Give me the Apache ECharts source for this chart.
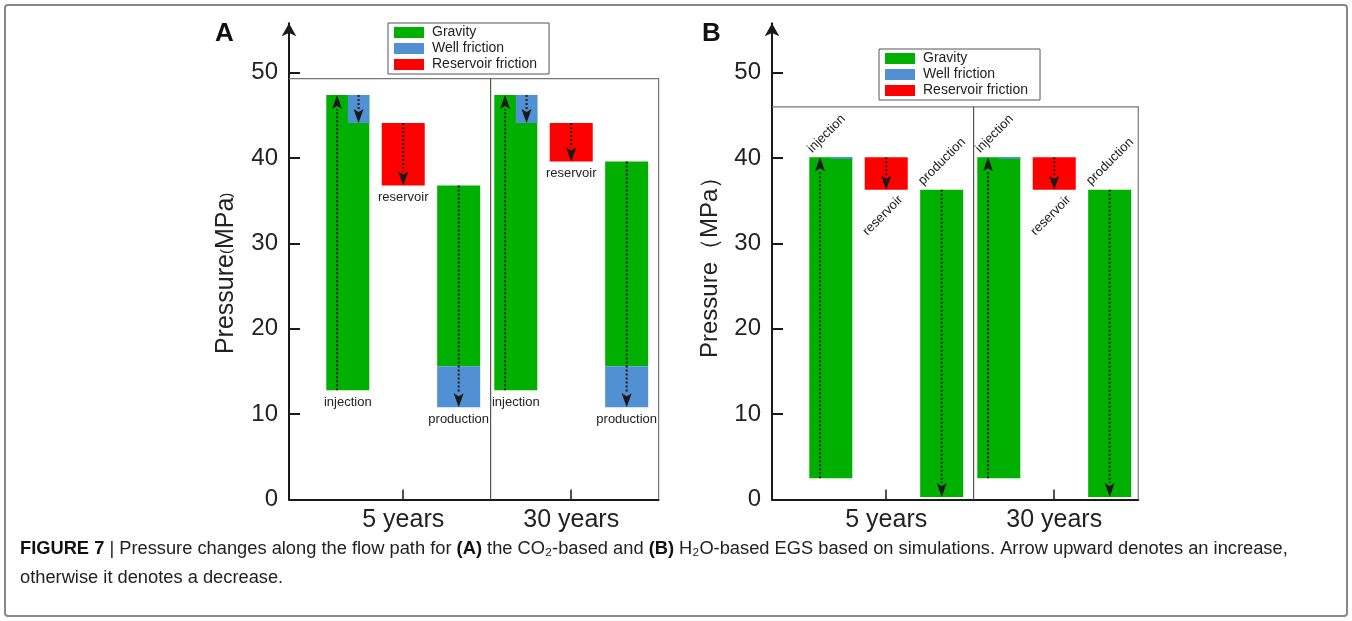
<!DOCTYPE html>
<html><head><meta charset="utf-8">
<script src="https://cdn.jsdelivr.net/npm/echarts@6/dist/echarts.min.js"></script>
<style>html,body{margin:0;padding:0;background:#fff}#c{width:1352px;height:621px}</style>
</head><body><div id="c"></div>
<script>
// ---------------- data ----------------
const categories = ['5 years', '30 years'];
const stages = ['injection', 'reservoir', 'production'];
const yTicks = [0, 10, 20, 30, 40, 50];
const legendNames = ['Gravity', 'Well friction', 'Reservoir friction'];

// Panel A (CO2-based): [low, high] in MPa, one entry per category
const aInjGravity  = [[12.8, 47.4], [12.8, 47.4]];
const aInjWell     = [[44.1, 47.4], [44.1, 47.4]];
const aResFriction = [[36.8, 44.1], [39.6, 44.1]];
const aProdGravity = [[15.6, 36.8], [15.6, 39.6]];
const aProdWell    = [[10.8, 15.6], [10.8, 15.6]];
const aFrameTop = 49.3;

// Panel B (H2O-based)
const bInjGravity  = [[2.5, 40.1], [2.5, 40.1]];
const bInjWell     = [[39.9, 40.1], [39.9, 40.1]];
const bResFriction = [[36.3, 40.1], [36.3, 40.1]];
const bProdGravity = [[0.3, 36.3], [0.3, 36.3]];
const bProdWell    = [[0.3, 0.3], [0.3, 0.3]];
const bFrameTop = 46.0;

// ---------------- layout / style ----------------
const SLOT = [-0.33, 0, 0.33];
const BAR_W = 0.256;
const X_MIN = -0.68, X_MAX_A = 1.52, X_MAX_B = 1.50, DIVIDER = 0.52;
const PX_PER_UNIT = 168;
const Y_MAX = 55.8;
const COLORS = { Gravity: '#00b000', 'Well friction': '#5090d3', 'Reservoir friction': '#ff0000' };
const FONT = "'Liberation Sans', Arial, sans-serif";
const INK = '#1a1a1a';

function buildPanel(p) {
  const gravity = [], well = [], res = [], arrows = [], labels = [];
  categories.forEach((_, c) => {
    gravity.push([c, 0, p.injG[c][0], p.injG[c][1]]);
    gravity.push([c, 2, p.prodG[c][0], p.prodG[c][1]]);
    well.push([c, 0, p.injW[c][0], p.injW[c][1]]);
    well.push([c, 2, p.prodW[c][0], p.prodW[c][1]]);
    res.push([c, 1, p.res[c][0], p.res[c][1]]);
    // arrows: [cat, stage, from, to, lane(-1 left half, 0 centre, 1 right half)]
    arrows.push([c, 0, p.injG[c][0], p.injG[c][1], -1]);
    if (p.injW[c][1] - p.injW[c][0] > 1) arrows.push([c, 0, p.injW[c][1], p.injW[c][0], 1]);
    arrows.push([c, 1, p.res[c][1], p.res[c][0], 0]);
    arrows.push([c, 2, p.prodG[c][1], Math.min(p.prodW[c][0], p.prodG[c][0]), 0]);
    // labels: [cat, stage, low, high]
    labels.push([c, 0, p.injG[c][0], p.injG[c][1]]);
    labels.push([c, 1, p.res[c][0], p.res[c][1]]);
    labels.push([c, 2, Math.min(p.prodW[c][0], p.prodG[c][0]), p.prodG[c][1]]);
  });
  return { gravity, well, res, arrows, labels };
}

const panelA = buildPanel({ injG: aInjGravity, injW: aInjWell, res: aResFriction, prodG: aProdGravity, prodW: aProdWell });
const panelB = buildPanel({ injG: bInjGravity, injW: bInjWell, res: bResFriction, prodG: bProdGravity, prodW: bProdWell });

function boxRender(kind) {
  return function (params, api) {
    const c = api.value(0), s = api.value(1), lo = api.value(2), hi = api.value(3);
    const xc = c + SLOT[s];
    let x0 = xc - BAR_W / 2, x1 = xc + BAR_W / 2;
    if (kind === 'Well friction' && s === 0) x0 = xc;
    const p0 = api.coord([x0, hi]), p1 = api.coord([x1, lo]);
    return { type: 'rect', shape: { x: p0[0], y: p0[1], width: p1[0] - p0[0], height: Math.max(p1[1] - p0[1], 0) },
      style: { fill: COLORS[kind] } };
  };
}

function arrowRender(params, api) {
  const c = api.value(0), s = api.value(1), from = api.value(2), to = api.value(3), lane = api.value(4);
  const xc = c + SLOT[s] + lane * BAR_W / 4;
  const a = api.coord([xc, from]), b = api.coord([xc, to]);
  const dir = b[1] > a[1] ? 1 : -1;
  const headL = 14, headW = 5;
  const baseY = b[1] - dir * headL;
  return { type: 'group', children: [
    { type: 'line', shape: { x1: a[0], y1: a[1], x2: b[0], y2: baseY }, style: { stroke: INK, lineWidth: 2, lineDash: [2, 2] } },
    { type: 'polygon', shape: { points: [[b[0], b[1]], [b[0] - headW, baseY], [b[0], baseY + dir * 3], [b[0] + headW, baseY]] }, style: { fill: INK } }
  ] };
}

function labelRender(panel) {
  return function (params, api) {
    const c = api.value(0), s = api.value(1), lo = api.value(2), hi = api.value(3);
    const xc = c + SLOT[s];
    const font = "13px " + FONT;
    if (panel === 'A') {
      const p = api.coord([xc, lo]);
      return { type: 'text', x: p[0], y: p[1] + 12, style: { text: stages[s], align: 'center', verticalAlign: 'middle', font, fill: '#222' } };
    }
    if (s === 1) {
      const p = api.coord([xc + BAR_W / 2, lo]);
      return { type: 'text', x: p[0] - 7, y: p[1] + 8, rotation: Math.PI / 4,
        style: { text: stages[s], align: 'right', verticalAlign: 'middle', font, fill: '#222' } };
    }
    const p = api.coord([xc - BAR_W / 2, hi]);
    return { type: 'text', x: p[0] + 5, y: p[1] - 2, rotation: Math.PI / 4,
      style: { text: stages[s], align: 'left', verticalAlign: 'bottom', font, fill: '#222' } };
  };
}

function frameRender(xMax) {
  return function (params, api) {
    const top = api.value(0);
    const tl = api.coord([X_MIN, top]), tr = api.coord([xMax, top]), br = api.coord([xMax, 0]);
    const dt = api.coord([DIVIDER, top]), db = api.coord([DIVIDER, 0]);
    return { type: 'group', children: [
      { type: 'polyline', shape: { points: [tl, tr, br] }, style: { stroke: '#777', lineWidth: 1.2, fill: null } },
      { type: 'line', shape: { x1: dt[0], y1: dt[1], x2: db[0], y2: db[1] }, style: { stroke: '#555', lineWidth: 1.2 } }
    ] };
  };
}

function panelSeries(idx, data, frameTop, xMax, panel) {
  const base = { type: 'custom', xAxisIndex: idx, yAxisIndex: idx, clip: false, silent: true };
  return [
    Object.assign({}, base, { name: '__frame' + idx, renderItem: frameRender(xMax), data: [[frameTop]] }),
    Object.assign({}, base, { name: 'Gravity', itemStyle: { color: COLORS['Gravity'] }, renderItem: boxRender('Gravity'), data: data.gravity }),
    Object.assign({}, base, { name: 'Well friction', itemStyle: { color: COLORS['Well friction'] }, renderItem: boxRender('Well friction'), data: data.well }),
    Object.assign({}, base, { name: 'Reservoir friction', itemStyle: { color: COLORS['Reservoir friction'] }, renderItem: boxRender('Reservoir friction'), data: data.res }),
    Object.assign({}, base, { name: '__arrows' + idx, renderItem: arrowRender, data: data.arrows }),
    Object.assign({}, base, { name: '__labels' + idx, renderItem: labelRender(panel), data: data.labels })
  ];
}

function xAxisDef(idx, xMax) {
  return { type: 'value', gridIndex: idx, min: X_MIN, max: xMax,
    axisLine: { onZero: false, lineStyle: { color: INK, width: 2 } },
    axisTick: { inside: true, length: 10, customValues: [0, 1], lineStyle: { color: INK, width: 1.5 } },
    axisLabel: { customValues: [0, 1], formatter: v => categories[Math.round(v)], fontSize: 25, color: '#222', fontFamily: FONT, margin: 8 },
    splitLine: { show: false } };
}
function yAxisDef(idx, name, nameSize, namePad) {
  return { type: 'value', gridIndex: idx, min: 0, max: Y_MAX,
    axisLine: { show: true, onZero: false, lineStyle: { color: INK, width: 2 }, symbol: ['none', 'arrow'], symbolSize: [11, 13] },
    axisTick: { show: true, inside: true, length: 11, customValues: yTicks, lineStyle: { color: INK, width: 2 } },
    axisLabel: { customValues: yTicks, fontSize: 24, color: '#222', fontFamily: FONT, margin: 11 },
    splitLine: { show: false },
    name: name, nameLocation: 'middle', nameGap: 50,
    nameTextStyle: { fontSize: nameSize, color: '#222', fontFamily: FONT, padding: namePad,
      rich: { t: { fontSize: nameSize, color: '#222', fontFamily: FONT }, p: { fontSize: 15, color: '#222', fontFamily: FONT } } } };
}

function legendDef(left, top) {
  return { left, top, orient: 'vertical', data: legendNames.map(n => ({ name: n, icon: 'rect' })),
    itemWidth: 30, itemHeight: 11, itemGap: 1, padding: [2, 12, 2, 6],
    borderColor: '#555', borderWidth: 1, borderRadius: 0, selectedMode: false,
    textStyle: { fontSize: 14, lineHeight: 15, color: '#222', fontFamily: FONT, padding: [0, 0, 0, 3] } };
}

const CAP_FONT = "'Liberation Sans', Arial, sans-serif";
const CAP_SIZE = 18.3;
const GRID_TOP = 499.5 - Y_MAX * 8.536;
const option = {
  animation: false,
  grid: [
    { left: 289, width: (X_MAX_A - X_MIN) * PX_PER_UNIT, top: GRID_TOP, bottom: 121.5 },
    { left: 772, width: (X_MAX_B - X_MIN) * PX_PER_UNIT, top: GRID_TOP, bottom: 121.5 }
  ],
  xAxis: [xAxisDef(0, X_MAX_A), xAxisDef(1, X_MAX_B)],
  yAxis: [yAxisDef(0, '{t|Pressure}{p|(}{t|MPa}{p|)}', 25, [0, 24, 0, 0]), yAxisDef(1, 'Pressure\uFF08MPa\uFF09', 24, 0)],
  legend: [legendDef(388, 23), legendDef(879, 49)],
  series: [].concat(
    panelSeries(0, panelA, aFrameTop, X_MAX_A, 'A'),
    panelSeries(1, panelB, bFrameTop, X_MAX_B, 'B')
  ),
  graphic: [
    { type: 'rect', shape: { x: 5, y: 5, width: 1342, height: 611, r: 3 }, style: { fill: null, stroke: '#888', lineWidth: 2 }, silent: true },
    { type: 'text', left: 215, top: 21, style: { text: 'A', font: 'bold 26px ' + FONT, fill: '#111' } },
    { type: 'text', left: 702, top: 21, style: { text: 'B', font: 'bold 26px ' + FONT, fill: '#111' } },
    { type: 'text', left: 20, top: 540, style: {
      text: '{b|FIGURE 7 }{n|| Pressure changes along the flow path for }{b|(A)}{n| the CO\u2082-based and }{b|(B)}{n| H\u2082O-based EGS based on simulations. Arrow upward denotes an increase,}',
      rich: { b: { fontWeight: 'bold', fontSize: CAP_SIZE, fontFamily: CAP_FONT, fill: '#111' }, n: { fontSize: CAP_SIZE, fontFamily: CAP_FONT, fill: '#222' } } } },
    { type: 'text', left: 20, top: 569, style: { text: 'otherwise it denotes a decrease.', font: CAP_SIZE + 'px ' + CAP_FONT, fill: '#222' } }
  ]
};

const chart = echarts.init(document.getElementById('c'), null, { renderer: 'canvas' });
chart.setOption(option);
</script>
</body></html>
